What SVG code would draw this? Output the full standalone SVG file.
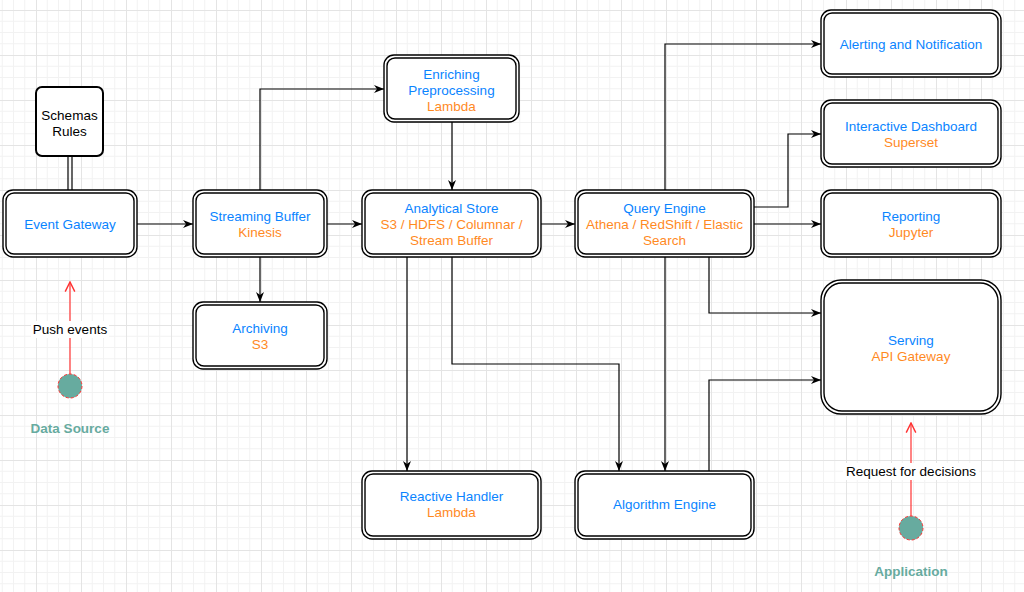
<svg xmlns="http://www.w3.org/2000/svg" width="1024" height="592" viewBox="0 0 1024 592">
<style>
.box{fill:#fff;stroke:#000;stroke-width:1.4}
.inner{fill:none;stroke:#000;stroke-width:1.4}
.t{font-family:"Liberation Sans",Arial,sans-serif;font-size:13.5px;text-anchor:middle}
.b{fill:#0A84FF}
.o{fill:#FF8A1F}
.k{fill:#000}
.g{fill:#67AB9F;font-weight:bold}
.c{fill:none;stroke:#000;stroke-width:1.2}
.r{fill:none;stroke:#FF3333;stroke-width:1.2}
</style>
<defs>
<pattern id="grid" x="36" y="10" width="45" height="45" patternUnits="userSpaceOnUse">
<path d="M11.25 0V45M22.5 0V45M33.75 0V45M0 11.25H45M0 22.5H45M0 33.75H45" stroke="#f2f2f2" stroke-width="1" fill="none"/>
<path d="M0.5 0V45M0 0.5H45" stroke="#e4e4e4" stroke-width="1" fill="none"/>
</pattern>
<marker id="arr" viewBox="0 0 10 10" refX="10" refY="5" markerWidth="10" markerHeight="10" markerUnits="userSpaceOnUse" orient="auto">
<path d="M0,1 L10,5 L0,9 L3,5 Z" fill="#000"/>
</marker>
<marker id="open" viewBox="0 0 10 10" refX="9" refY="5" markerWidth="12" markerHeight="12" markerUnits="userSpaceOnUse" orient="auto">
<path d="M1,1 L9,5 L1,9" fill="none" stroke="#FF3333" stroke-width="1.2"/>
</marker>
</defs>
<rect width="1024" height="592" fill="#fff"/>
<rect width="1024" height="592" fill="url(#grid)"/>

<g id="connectors">
<path class="c" d="M137 224H193" marker-end="url(#arr)"/>
<path class="c" d="M327 224H362" marker-end="url(#arr)"/>
<path class="c" d="M260 190V89H384" marker-end="url(#arr)"/>
<path class="c" d="M452 122V190" marker-end="url(#arr)"/>
<path class="c" d="M260 257V302" marker-end="url(#arr)"/>
<path class="c" d="M541 224H575" marker-end="url(#arr)"/>
<path class="c" d="M665 190V44H821" marker-end="url(#arr)"/>
<path class="c" d="M754 207H788V134H821" marker-end="url(#arr)"/>
<path class="c" d="M754 224H821" marker-end="url(#arr)"/>
<path class="c" d="M709 257V313H821" marker-end="url(#arr)"/>
<path class="c" d="M665 257V471" marker-end="url(#arr)"/>
<path class="c" d="M452 257V364H619V471" marker-end="url(#arr)"/>
<path class="c" d="M407 257V471" marker-end="url(#arr)"/>
<path class="c" d="M709 471V380H821" marker-end="url(#arr)"/>
<path d="M68 156V190M72 156V190" stroke="#000" stroke-width="1.2" fill="none"/>
<path class="r" d="M70 374V282" marker-end="url(#open)"/>
<path class="r" d="M911 516V423" marker-end="url(#open)"/>
</g>

<g id="schemas">
<rect x="36" y="87" width="67" height="69" rx="6" fill="#fff" stroke="#000" stroke-width="2"/>
<text class="t k" x="69.5" y="120">Schemas</text>
<text class="t k" x="69.5" y="136">Rules</text>
</g>

<g id="event-gateway">
<rect class="box" x="3" y="190" width="134" height="67" rx="10"/>
<rect class="inner" x="6" y="193" width="128" height="61" rx="8"/>
<text class="t b" x="70" y="229">Event Gateway</text>
</g>

<g id="streaming-buffer">
<rect class="box" x="193" y="190" width="134" height="67" rx="10"/>
<rect class="inner" x="196" y="193" width="128" height="61" rx="8"/>
<text class="t b" x="260" y="221">Streaming Buffer</text>
<text class="t o" x="260" y="237">Kinesis</text>
</g>

<g id="enriching">
<rect class="box" x="384" y="55" width="135" height="67" rx="10"/>
<rect class="inner" x="387" y="58" width="129" height="61" rx="8"/>
<text class="t b" x="451.5" y="79">Enriching</text>
<text class="t b" x="451.5" y="95">Preprocessing</text>
<text class="t o" x="451.5" y="111">Lambda</text>
</g>

<g id="analytical-store">
<rect class="box" x="362" y="190" width="179" height="67" rx="10"/>
<rect class="inner" x="365" y="193" width="173" height="61" rx="8"/>
<text class="t b" x="451.5" y="213">Analytical Store</text>
<text class="t o" x="451.5" y="229">S3 / HDFS / Columnar /</text>
<text class="t o" x="451.5" y="245">Stream Buffer</text>
</g>

<g id="query-engine">
<rect class="box" x="575" y="190" width="179" height="67" rx="10"/>
<rect class="inner" x="578" y="193" width="173" height="61" rx="8"/>
<text class="t b" x="664.5" y="213">Query Engine</text>
<text class="t o" x="664.5" y="229">Athena / RedShift / Elastic</text>
<text class="t o" x="664.5" y="245">Search</text>
</g>

<g id="alerting">
<rect class="box" x="821" y="10" width="180" height="67" rx="10"/>
<rect class="inner" x="824" y="13" width="174" height="61" rx="8"/>
<text class="t b" x="911" y="49">Alerting and Notification</text>
</g>

<g id="dashboard">
<rect class="box" x="821" y="100" width="180" height="67" rx="10"/>
<rect class="inner" x="824" y="103" width="174" height="61" rx="8"/>
<text class="t b" x="911" y="131">Interactive Dashboard</text>
<text class="t o" x="911" y="147">Superset</text>
</g>

<g id="reporting">
<rect class="box" x="821" y="190" width="180" height="67" rx="10"/>
<rect class="inner" x="824" y="193" width="174" height="61" rx="8"/>
<text class="t b" x="911" y="221">Reporting</text>
<text class="t o" x="911" y="237">Jupyter</text>
</g>

<g id="serving">
<rect class="box" x="821" y="280" width="180" height="134" rx="20"/>
<rect class="inner" x="824" y="283" width="174" height="128" rx="18"/>
<text class="t b" x="911" y="345">Serving</text>
<text class="t o" x="911" y="361">API Gateway</text>
</g>

<g id="archiving">
<rect class="box" x="193" y="302" width="134" height="67" rx="10"/>
<rect class="inner" x="196" y="305" width="128" height="61" rx="8"/>
<text class="t b" x="260" y="333">Archiving</text>
<text class="t o" x="260" y="349">S3</text>
</g>

<g id="reactive-handler">
<rect class="box" x="362" y="471" width="179" height="68" rx="10"/>
<rect class="inner" x="365" y="474" width="173" height="62" rx="8"/>
<text class="t b" x="451.5" y="501">Reactive Handler</text>
<text class="t o" x="451.5" y="517">Lambda</text>
</g>

<g id="algorithm-engine">
<rect class="box" x="575" y="471" width="179" height="68" rx="10"/>
<rect class="inner" x="578" y="474" width="173" height="62" rx="8"/>
<text class="t b" x="664.5" y="509">Algorithm Engine</text>
</g>

<g id="data-source">
<circle cx="70" cy="386" r="12" fill="#67AB9F" stroke="#FF3333" stroke-width="1" stroke-dasharray="3 2"/>
<rect x="31" y="321" width="78" height="17" fill="#fff"/>
<text class="t k" x="70" y="334">Push events</text>
<text class="t g" x="70" y="433">Data Source</text>
</g>

<g id="application">
<circle cx="911" cy="528" r="12" fill="#67AB9F" stroke="#FF3333" stroke-width="1" stroke-dasharray="3 2"/>
<rect x="843" y="463" width="136" height="17" fill="#fff"/>
<text class="t k" x="911" y="476">Request for decisions</text>
<text class="t g" x="911" y="576">Application</text>
</g>
</svg>
